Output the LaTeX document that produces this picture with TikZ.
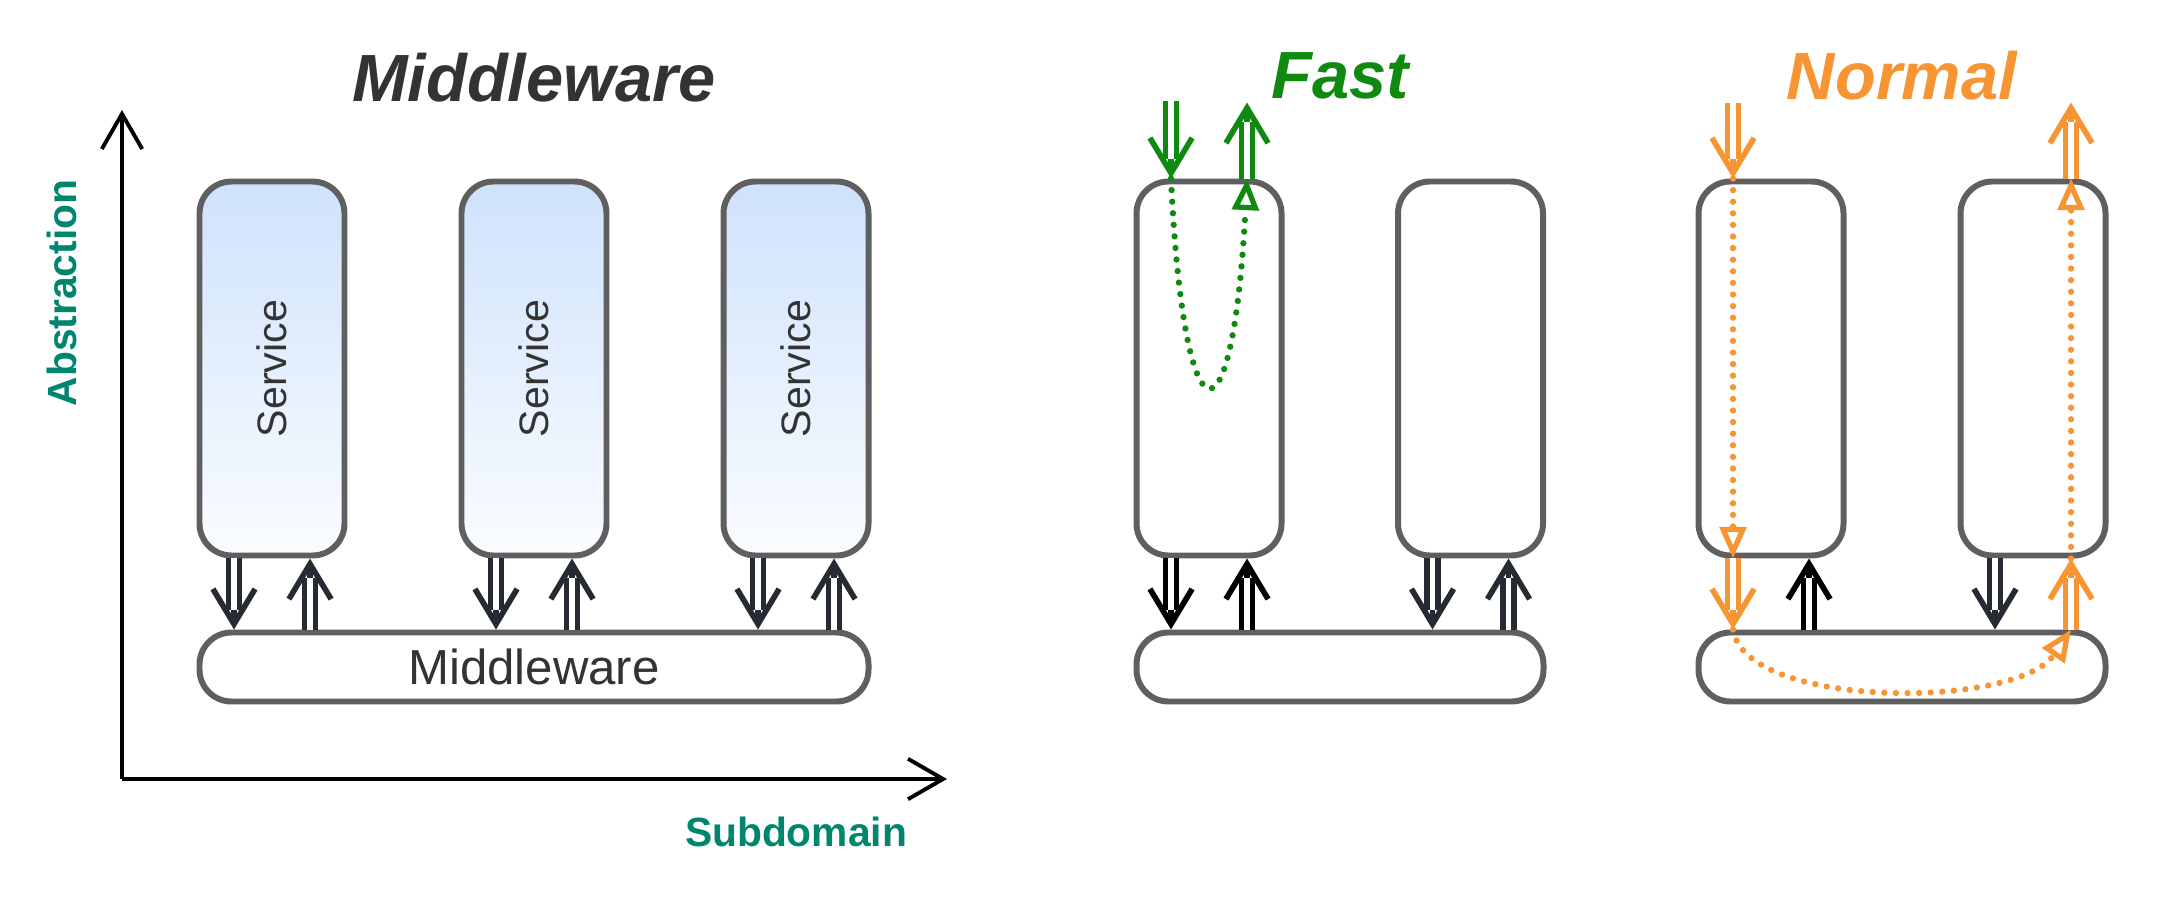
\documentclass[tikz,border=0pt]{standalone}
\usepackage{fontspec}
\setmainfont{Liberation Sans}
\usetikzlibrary{arrows.meta}

\definecolor{boxgray}{RGB}{95,95,95}
\definecolor{arrdark}{RGB}{38,43,51}
\definecolor{txtdark}{RGB}{51,51,51}
\definecolor{fastgreen}{RGB}{16,137,16}
\definecolor{normorange}{RGB}{247,148,51}
\definecolor{axisteal}{RGB}{0,133,110}
\definecolor{svctop}{RGB}{207,226,252}
\definecolor{svcbot}{RGB}{250,252,255}

% double shaft with an open barb
\newcommand{\dblarrow}[3][arrdark]{%
  \path[draw=#1,tipline] #2 -- #3;
  \path[draw=#1,shaft] #2 -- #3;}

\begin{document}
\begin{tikzpicture}[x=1cm,y=1cm,
  box/.style={draw=boxgray,line width=1.7pt,rounded corners=0.32cm,minimum width=1.45cm,minimum height=3.74cm,inner sep=0pt},
  service/.style={box,top color=svctop,bottom color=svcbot},
  bar/.style={draw=boxgray,line width=1.7pt,rounded corners=0.32cm,minimum height=0.69cm,inner sep=0pt},
  label/.style={text=txtdark,font=\fontsize{11.7}{14}\selectfont},
  title/.style={font=\fontsize{19}{23}\selectfont\bfseries\itshape},
  axislabel/.style={text=axisteal,font=\fontsize{11.6}{14}\selectfont\bfseries},
  axis/.style={line width=1.1pt,-{Straight Barb[length=10pt,width=11.5pt]}},
  tipline/.style={line width=1.6pt,-{Straight Barb[length=10pt,width=12pt]}},
  shaft/.style={line width=1.5pt,double=white,double distance=1.6pt,shorten >=5.5pt},
  flow/.style={line width=1.8pt,line cap=round,dash pattern=on 0pt off 3.3pt,-{Triangle[open,length=9pt,width=7.5pt,line width=1.5pt]}}]
  \useasboundingbox (0,0) rectangle (21.6,9);

  % titles
  \node[title,text=txtdark] (t1) at (5.34,8.22) {Middleware};
  \node[title,text=fastgreen] (t2) at (13.40,8.24) {Fast};
  \node[title,text=normorange] (t3) at (19.02,8.24) {Normal};

  % axes
  \coordinate (o) at (1.22,1.21);
  \coordinate (ytop) at (1.22,7.90);
  \coordinate (xend) at (9.47,1.21);
  \path[draw,axis] (o) -- (ytop);
  \path[draw,axis] (o) -- (xend);
  \node[axislabel,rotate=90] (abs) at (0.62,6.07) {Abstraction};
  \node[axislabel] (sub) at (7.96,0.68) {Subdomain};

  % middleware column
  \node[service] (s1) at (2.72,5.315) {};
  \node[service] (s2) at (5.34,5.315) {};
  \node[service] (s3) at (7.96,5.315) {};
  \node[label,rotate=90] (l1) at (s1) {Service};
  \node[label,rotate=90] (l2) at (s2) {Service};
  \node[label,rotate=90] (l3) at (s3) {Service};
  \node[bar,minimum width=6.69cm,label,font=\fontsize{14}{16}\selectfont] (mw) at (5.34,2.33) {Middleware};

  \dblarrow{([xshift=-0.38cm]s1.south)}{([xshift=-0.38cm]s1.south |- mw.north)}
  \dblarrow{([xshift=0.38cm]s1.south |- mw.north)}{([xshift=0.38cm]s1.south)}
  \dblarrow{([xshift=-0.38cm]s2.south)}{([xshift=-0.38cm]s2.south |- mw.north)}
  \dblarrow{([xshift=0.38cm]s2.south |- mw.north)}{([xshift=0.38cm]s2.south)}
  \dblarrow{([xshift=-0.38cm]s3.south)}{([xshift=-0.38cm]s3.south |- mw.north)}
  \dblarrow{([xshift=0.38cm]s3.south |- mw.north)}{([xshift=0.38cm]s3.south)}

  % fast column
  \node[box] (f1) at (12.09,5.315) {};
  \node[box] (f2) at (14.705,5.315) {};
  \node[bar,minimum width=4.07cm] (fb) at (13.40,2.33) {};

  \dblarrow[fastgreen]{([xshift=-0.38cm,yshift=0.78cm]f1.north)}{([xshift=-0.38cm]f1.north)}
  \dblarrow[fastgreen]{([xshift=0.38cm]f1.north)}{([xshift=0.38cm,yshift=0.76cm]f1.north)}
  \path[draw=fastgreen,flow] ([xshift=-0.38cm]f1.north) .. controls +(0.13,-2.75) and +(-0.14,-2.75) .. ([xshift=0.38cm]f1.north);
  \dblarrow[black]{([xshift=-0.38cm]f1.south)}{([xshift=-0.38cm]f1.south |- fb.north)}
  \dblarrow[black]{([xshift=0.38cm]f1.south |- fb.north)}{([xshift=0.38cm]f1.south)}
  \dblarrow{([xshift=-0.38cm]f2.south)}{([xshift=-0.38cm]f2.south |- fb.north)}
  \dblarrow{([xshift=0.38cm]f2.south |- fb.north)}{([xshift=0.38cm]f2.south)}

  % normal column
  \node[box] (n1) at (17.71,5.315) {};
  \node[box] (n2) at (20.33,5.315) {};
  \node[bar,minimum width=4.07cm] (nb) at (19.02,2.33) {};

  \dblarrow[normorange]{([xshift=-0.38cm,yshift=0.76cm]n1.north)}{([xshift=-0.38cm]n1.north)}
  \path[draw=normorange,flow] ([xshift=-0.38cm]n1.north) -- ([xshift=-0.38cm]n1.south);
  \dblarrow[normorange]{([xshift=-0.38cm]n1.south)}{([xshift=-0.38cm]n1.south |- nb.north)}
  \dblarrow[black]{([xshift=0.38cm]n1.south |- nb.north)}{([xshift=0.38cm]n1.south)}
  \dblarrow{([xshift=-0.38cm]n2.south)}{([xshift=-0.38cm]n2.south |- nb.north)}
  \dblarrow[normorange]{([xshift=0.38cm]n2.south |- nb.north)}{([xshift=0.38cm]n2.south)}
  \path[draw=normorange,flow] ([xshift=-0.38cm]n1.south |- nb.north) .. controls +(0.12,-0.8) and +(-0.54,-0.8) .. ([xshift=0.38cm]n2.south |- nb.north);
  \path[draw=normorange,flow] ([xshift=0.38cm]n2.south) -- ([xshift=0.38cm]n2.north);
  \dblarrow[normorange]{([xshift=0.38cm]n2.north)}{([xshift=0.38cm,yshift=0.76cm]n2.north)}
\end{tikzpicture}
\end{document}
